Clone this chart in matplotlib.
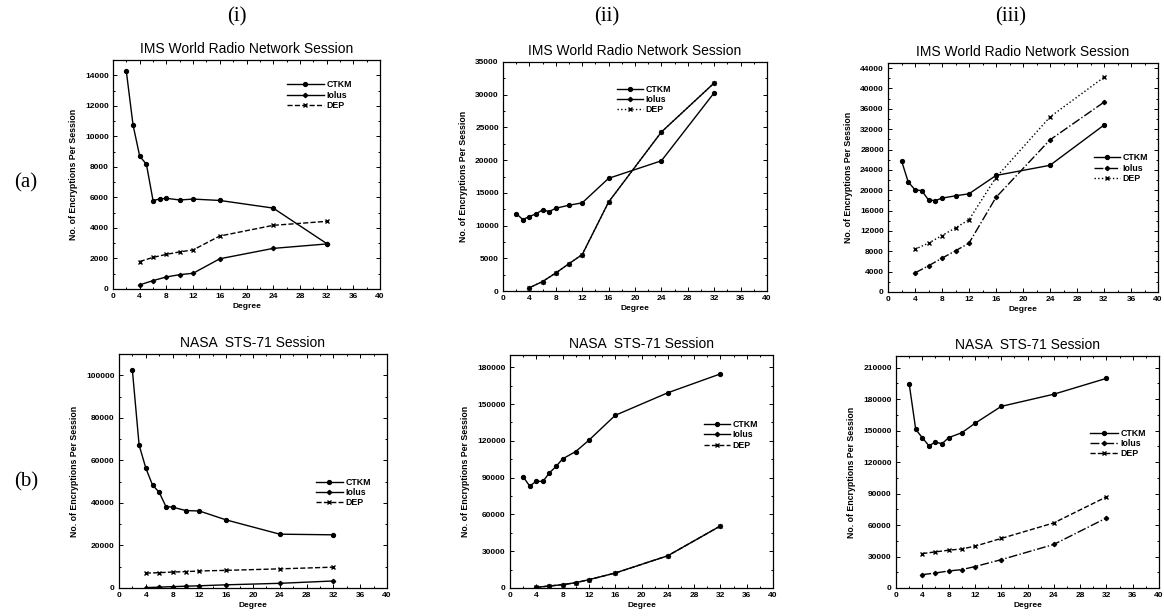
import matplotlib
matplotlib.use("Agg")
import matplotlib.pyplot as plt
from matplotlib.ticker import MultipleLocator, AutoMinorLocator

plt.rcParams['font.family'] = ['Liberation Sans', 'DejaVu Sans']

# degrees on the x axis
deg_ctkm = [2, 3, 4, 5, 6, 7, 8, 10, 12, 16, 24, 32]
deg_other = [4, 6, 8, 10, 12, 16, 24, 32]

# (a) IMS World Radio Network Session
a1_ctkm = [14250, 10750, 8700, 8180, 5790, 5900, 5940, 5830, 5890, 5800, 5300, 2980]
a1_iolus = [270, 550, 790, 940, 1030, 1980, 2660, 2950]
a1_dep = [1800, 2070, 2270, 2430, 2560, 3470, 4170, 4430]

a2_ctkm = [11840, 10920, 11380, 11790, 12400, 12140, 12650, 13110, 13470, 17220, 19900, 30300]
a2_iolus = [500, 1450, 2750, 4180, 5560, 13600, 24300, 31800]
a2_dep = [500, 1450, 2750, 4180, 5560, 13600, 24300, 31800]

a3_ctkm = [25800, 21600, 20100, 19900, 18100, 17950, 18450, 18900, 19300, 22900, 24900, 32800]
a3_iolus = [3750, 5150, 6650, 8100, 9600, 18600, 29900, 37300]
a3_dep = [8400, 9600, 11100, 12600, 14200, 22500, 34400, 42200]

# (b) NASA STS-71 Session
b1_ctkm = [102300, 67200, 56400, 48400, 45000, 38300, 38000, 36400, 36200, 32000, 25300, 25000]
b1_iolus = [200, 400, 650, 850, 1050, 1500, 2200, 3300]
b1_dep = [7000, 7200, 7500, 7700, 8000, 8300, 9000, 9800]

b2_ctkm = [90700, 83100, 87100, 86900, 93900, 99100, 105300, 111300, 120500, 140800, 159200, 174600]
b2_iolus = [540, 1630, 2710, 4340, 6790, 12200, 26300, 50600]
b2_dep = [540, 1630, 2710, 4340, 6790, 12200, 26300, 50600]

b3_ctkm = [194700, 151100, 143200, 135500, 139000, 137400, 143200, 147900, 156800, 173000, 184600, 199700]
b3_iolus = [12700, 14300, 16200, 17500, 20400, 27000, 41500, 66700]
b3_dep = [32800, 34400, 36000, 37200, 39800, 47200, 62000, 86800]

W, H = 1164, 616
fig = plt.figure(figsize=(W / 100, H / 100), dpi=100)


def make_axes(left, top, right, bottom):
    return fig.add_axes([left / W, 1 - bottom / H, (right - left) / W, (bottom - top) / H])


panels = [
    dict(box=(113, 60, 380, 289), title="IMS World Radio Network Session",
         data=(a1_ctkm, a1_iolus, a1_dep), ylim=15000, ystep=2000,
         ls=('-', '-', '--'), leg=(0.635, 0.93), hl=4.2),
    dict(box=(503, 62, 767, 291), title="IMS World Radio Network Session",
         data=(a2_ctkm, a2_iolus, a2_dep), ylim=35000, ystep=5000,
         ls=('-', '-', ':'), leg=(0.415, 0.92), hl=3.0),
    dict(box=(888, 63, 1158, 292), title="IMS World Radio Network Session",
         data=(a3_ctkm, a3_iolus, a3_dep), ylim=45000, ystep=4000,
         ls=('-', '-.', ':'), leg=(0.745, 0.625), hl=3.0),
    dict(box=(119, 354, 387, 588), title="NASA  STS-71 Session",
         data=(b1_ctkm, b1_iolus, b1_dep), ylim=110000, ystep=20000,
         ls=('-', '-', '--'), leg=(0.72, 0.49), hl=3.0),
    dict(box=(510, 355, 773, 588), title="NASA  STS-71 Session",
         data=(b2_ctkm, b2_iolus, b2_dep), ylim=190000, ystep=30000,
         ls=('-', '-', '--'), leg=(0.72, 0.74), hl=3.0),
    dict(box=(896, 356, 1159, 588), title="NASA  STS-71 Session",
         data=(b3_ctkm, b3_iolus, b3_dep), ylim=221000, ystep=30000,
         ls=('-', '-.', '--'), leg=(0.72, 0.705), hl=3.2),
]

for p in panels:
    ax = make_axes(*p['box'])
    ctkm, iolus, dep = p['data']
    ls_c, ls_i, ls_d = p['ls']
    ax.plot(deg_ctkm, ctkm, ls=ls_c, color='black', lw=1.0, marker='o', ms=2.8, label='CTKM')
    ax.plot(deg_other, iolus, ls=ls_i, color='black', lw=1.0, marker='D', ms=2.2, label='Iolus')
    ax.plot(deg_other, dep, ls=ls_d, color='black', lw=1.0, marker='x', ms=3.2, mew=1.0, label='DEP')
    ax.set_xlim(0, 40)
    ax.set_ylim(0, p['ylim'])
    ax.xaxis.set_major_locator(MultipleLocator(4))
    ax.yaxis.set_major_locator(MultipleLocator(p['ystep']))
    ax.yaxis.set_minor_locator(AutoMinorLocator(2))
    ax.xaxis.set_minor_locator(AutoMinorLocator(2))
    ax.tick_params(which='both', direction='in', top=True, right=True,
                   labelsize=6, width=0.7, pad=3)
    ax.tick_params(which='major', length=3)
    ax.tick_params(which='minor', length=1.5)
    for lab in ax.get_xticklabels() + ax.get_yticklabels():
        lab.set_fontweight('bold')
    for s in ax.spines.values():
        s.set_linewidth(0.9)
    ax.set_xlabel("Degree", fontsize=6, fontweight='bold', labelpad=2)
    ax.set_ylabel("No. of Encryptions Per Session", fontsize=6.3, fontweight='bold', labelpad=5)
    ax.set_title(p['title'], fontsize=10, pad=5)
    ax.legend(loc='upper left', bbox_to_anchor=p['leg'], frameon=False,
              handlelength=p['hl'], handletextpad=0.3, labelspacing=0.15, borderpad=0,
              prop={'weight': 'bold', 'size': 6.3})

# column and row markers
for txt, x in (("(i)", 237), ("(ii)", 607), ("(iii)", 1011)):
    fig.text(x / W, 1 - 17 / H, txt, family='Liberation Serif', fontsize=15,
             ha='center', va='center')
for txt, y in (("(a)", 183), ("(b)", 482)):
    fig.text(26 / W, 1 - y / H, txt, family='Liberation Serif', fontsize=15,
             ha='center', va='center')

fig.savefig("out.png", dpi=100)
